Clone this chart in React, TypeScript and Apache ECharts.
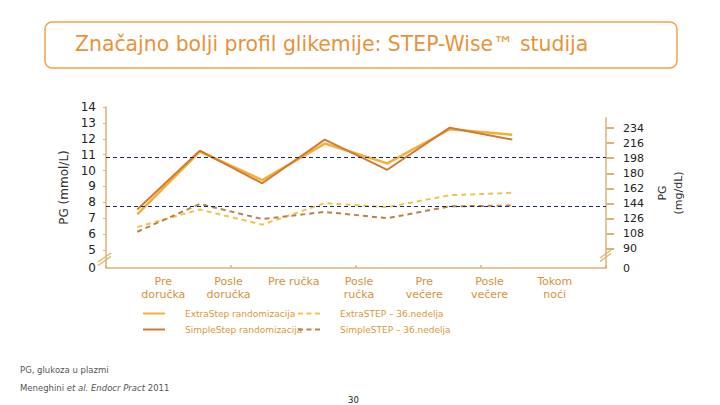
import React, { useEffect, useRef } from "react";
import * as echarts from "echarts";

const categories = ["Pre\ndoručka", "Posle\ndoručka", "Pre ručka", "Posle\nručka", "Pre\nvečere", "Posle\nvečere", "Tokom\nnoći"];
const extraRand = [7.25, 11.2, 9.4, 11.7, 10.45, 12.6, 12.25];
const simpleRand = [7.55, 11.25, 9.2, 11.95, 10.05, 12.7, 11.95];
const extra36 = [6.45, 7.55, 6.6, 7.95, 7.7, 8.45, 8.6];
const simple36 = [6.15, 7.9, 6.95, 7.4, 7.0, 7.75, 7.8];
const thresholds = [10.85, 7.77];
const leftTicks = [5, 6, 7, 8, 9, 10, 11, 12, 13, 14];
const rightTicks = [90, 108, 126, 144, 162, 180, 198, 216, 234];
const leftBreakMin = 3.87;
const rightBreakMin = 67;

const seriesNames = ["ExtraStep randomizacija", "SimpleStep randomizacija", "ExtraSTEP – 36.nedelja", "SimpleSTEP – 36.nedelja"];

const FONT = "DejaVu Sans";
const AXIS = "#DDB277";
const ORANGE = "#E8933A";
const LEG = "#D9983A";
const SOLID_ICON = "path://M0,0h22v2h-22z";
const DASH_ICON = "path://M0,0h5v2h-5z M8.5,0h5v2h-5z M17,0h5v2h-5z";

export default function App() {
  const ref = useRef<HTMLDivElement>(null);
  useEffect(() => {
    if (!ref.current) return;
    const chart = echarts.init(ref.current, null, { renderer: "svg" });
    const legendBase = {
      padding: 0,
      itemWidth: 22,
      itemHeight: 2,
      textStyle: { color: LEG, fontFamily: FONT, fontSize: 9, padding: [0, 0, 0, 15] },
    };
    const option: any = {
      animation: false,
      backgroundColor: "#ffffff",
      grid: [
        { left: 106, width: 500, top: 107, height: 161 },
        { left: 106, width: 500, top: 118, height: 150 },
        { left: 98, width: 522, top: 107, height: 161 },
      ],
      xAxis: [
        {
          gridIndex: 0,
          type: "category",
          boundaryGap: true,
          data: categories.concat([""]),
          axisLine: { lineStyle: { color: AXIS, width: 1.5 } },
          axisTick: { show: true, inside: true, length: 3, lineStyle: { color: AXIS, width: 1.5 } },
          axisLabel: { show: false },
        },
        { gridIndex: 1, type: "category", data: categories, show: false },
        {
          gridIndex: 2,
          type: "category",
          boundaryGap: false,
          data: [""].concat(categories, [""]),
          axisLine: { show: false },
          axisTick: { show: false },
          axisLabel: {
            interval: 0,
            color: "#D4923C",
            fontFamily: FONT,
            fontSize: 11,
            lineHeight: 13,
            margin: 7,
          },
        },
      ],
      yAxis: [
        {
          gridIndex: 0,
          type: "value",
          min: leftBreakMin,
          max: 14,
          name: "PG (mmol/L)",
          nameLocation: "middle",
          nameRotate: 90,
          nameGap: 36,
          nameTextStyle: { color: "#333", fontFamily: FONT, fontSize: 12 },
          splitLine: { show: false },
          axisLine: { show: true, lineStyle: { color: AXIS, width: 1.5 } },
          axisTick: { show: true, length: 3, customValues: leftTicks, lineStyle: { color: AXIS, width: 1 } },
          axisLabel: {
            customValues: [leftBreakMin].concat(leftTicks),
            formatter: (v: number) => (v < 4.5 ? "0" : String(Math.round(v))),
            color: "#222",
            fontFamily: FONT,
            fontSize: 12,
            margin: 10,
          },
        },
        {
          gridIndex: 1,
          type: "value",
          position: "right",
          min: rightBreakMin,
          max: 246,
          name: "PG\n(mg/dL)",
          nameLocation: "middle",
          nameRotate: 90,
          nameGap: 42,
          nameTextStyle: { color: "#333", fontFamily: FONT, fontSize: 11, lineHeight: 16 },
          splitLine: { show: false },
          axisLine: { show: true, lineStyle: { color: AXIS, width: 1.5 } },
          axisTick: { show: true, length: 8, customValues: rightTicks, lineStyle: { color: AXIS, width: 2 } },
          axisLabel: {
            customValues: [rightBreakMin].concat(rightTicks),
            formatter: (v: number) => (v < 80 ? "0" : String(Math.round(v))),
            color: "#222",
            fontFamily: FONT,
            fontSize: 11,
            margin: 17,
          },
        },
        { gridIndex: 2, type: "value", min: 0, max: 1, show: false },
      ],
      legend: [
        { ...legendBase, left: 143, top: 309, icon: SOLID_ICON, data: [seriesNames[0]] },
        { ...legendBase, left: 298, top: 309, icon: DASH_ICON, data: [seriesNames[2]] },
        { ...legendBase, left: 143, top: 325, icon: SOLID_ICON, data: [seriesNames[1]] },
        { ...legendBase, left: 298, top: 325, icon: DASH_ICON, data: [seriesNames[3]] },
      ],
      series: [
        {
          name: seriesNames[0],
          type: "line",
          data: extraRand,
          symbol: "none",
          color: "#F4AE3A",
          lineStyle: { color: "#F4AE3A", width: 2.5 },
          markLine: {
            silent: true,
            symbol: ["none", "none"],
            label: { show: false },
            lineStyle: { color: "#1B2A5E", type: [4, 3], width: 1 },
            data: thresholds.map((t) => ({ yAxis: t })),
          },
        },
        {
          name: seriesNames[1],
          type: "line",
          data: simpleRand,
          symbol: "none",
          color: "#D07B30",
          lineStyle: { color: "#D07B30", width: 2 },
        },
        {
          name: seriesNames[2],
          type: "line",
          data: extra36,
          symbol: "none",
          color: "#F0C44C",
          lineStyle: { color: "#F0C44C", width: 2, type: [5, 4] },
        },
        {
          name: seriesNames[3],
          type: "line",
          data: simple36,
          symbol: "none",
          color: "#B98248",
          lineStyle: { color: "#B98248", width: 2, type: [5, 4] },
        },
      ],
      graphic: [
        {
          type: "rect",
          shape: { x: 45, y: 22, width: 632, height: 46, r: 7 },
          style: { fill: "#ffffff", stroke: "#F2A24A", lineWidth: 1.5 },
          z: -1,
        },
        {
          type: "text",
          x: 75,
          y: 44,
          style: {
            text: "Značajno bolji profil glikemije: STEP-Wise™ studija",
            fill: ORANGE,
            font: `20.4px "${FONT}"`,
            verticalAlign: "middle",
          },
        },
        { type: "line", shape: { x1: 98, y1: 262, x2: 111, y2: 253 }, style: { stroke: "#E0B060", lineWidth: 1.2 } },
        { type: "line", shape: { x1: 98, y1: 265.5, x2: 111, y2: 256.5 }, style: { stroke: "#E0B060", lineWidth: 1.2 } },
        { type: "line", shape: { x1: 600, y1: 258, x2: 611, y2: 250 }, style: { stroke: "#E0B060", lineWidth: 1.2 } },
        { type: "line", shape: { x1: 600, y1: 261.5, x2: 611, y2: 253.5 }, style: { stroke: "#E0B060", lineWidth: 1.2 } },
        {
          type: "text",
          x: 20,
          y: 370,
          style: { text: "PG, glukoza u plazmi", fill: "#555", font: `8.5px "${FONT}"`, verticalAlign: "middle" },
        },
        {
          type: "text",
          x: 20,
          y: 388,
          style: {
            text: "Meneghini {i|et al.} {i|Endocr Pract} 2011",
            fill: "#555",
            font: `8.5px "${FONT}"`,
            verticalAlign: "middle",
            rich: { i: { fontStyle: "italic", fontSize: 8.5, fontFamily: FONT, fill: "#555" } },
          },
        },
        {
          type: "text",
          x: 348,
          y: 400,
          style: { text: "30", fill: "#222", font: `8.5px "${FONT}"`, verticalAlign: "middle" },
        },
      ],
    };
    chart.setOption(option);
    return () => chart.dispose();
  }, []);
  return <div ref={ref} style={{ position: "fixed", left: 0, top: 0, width: 720, height: 405 }} />;
}
